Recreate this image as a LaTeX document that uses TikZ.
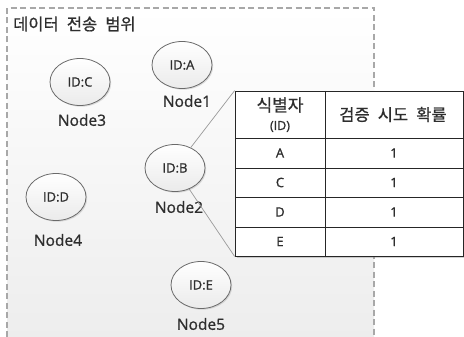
\documentclass[tikz,border=0pt]{standalone}
\usepackage{fontspec}
\setmainfont{Open Sans}[FakeBold=1.0]
\newfontfamily\kr{Noto Sans CJK KR}[WordSpace=2.2, FakeBold=0.8]
\usetikzlibrary{shadows,shapes.geometric}

\definecolor{bordergray}{HTML}{A8A8A8}
\definecolor{nodeedge}{HTML}{6A6A6A}
\definecolor{linkgray}{HTML}{9A9A9A}
\definecolor{inkgray}{HTML}{2E2E2E}

\tikzset{
  x=1pt, y=-1pt,
  idnode/.style={ellipse, draw=nodeedge, line width=0.8pt,
    top color=white, bottom color=black!8, minimum width=60pt,
    minimum height=47pt, inner sep=0pt, font=\fontsize{13}{14}\selectfont,
    text=inkgray,
    drop shadow={shadow xshift=1.2pt, shadow yshift=-1.2pt, opacity=0.25}},
  namelabel/.style={font=\fontsize{15.5}{17}\selectfont, text=inkgray, inner sep=0pt},
  cellbox/.style={draw=black!85, line width=0.8pt, fill=white, inner sep=0pt},
  celltext/.style={font=\fontsize{13}{14}\selectfont, text=inkgray, inner sep=0pt},
  krtext/.style={font=\kr\fontsize{16.5}{18}\selectfont, text=inkgray, inner sep=0pt},
  link/.style={draw=linkgray, line width=0.7pt},
}

\begin{document}
\begin{tikzpicture}
\useasboundingbox (0,0) rectangle (464,337);
\clip (0,0) rectangle (464,337);

% transmission range area
\shade[top color=white, bottom color=black!7] (7,8) rectangle (374,337);
\draw[bordergray, line width=1.4pt, dash pattern=on 6pt off 3.5pt]
  (7,337) -- (7,8) -- (374,8) -- (374,337);
\node[krtext, anchor=west] (title) at (13,24) {데이터 전송 범위};

% nodes
\node[idnode] (A) at (182,65) {ID:A};
\node[idnode] (C) at (80,82) {ID:C};
\node[idnode] (B) at (175,168) {ID:B};
\node[idnode] (D) at (56,197) {ID:D};
\node[idnode] (E) at (201,285) {ID:E};

\node[namelabel] (nA) at (187,101) {Node1};
\node[namelabel] (nC) at (82,120) {Node3};
\node[namelabel] (nB) at (179,207) {Node2};
\node[namelabel] (nD) at (58,240) {Node4};
\node[namelabel] (nE) at (201,324) {Node5};

% verification table of Node2
\node[cellbox, minimum width=228pt, minimum height=165pt,
  drop shadow={shadow xshift=2pt, shadow yshift=-2pt, opacity=0.35}]
  (tbl) at (349,173.5) {};
\draw[black!85, line width=0.8pt]
  (325,91) -- (325,256)
  (235,138) -- (463,138)
  (235,168) -- (463,168)
  (235,197) -- (463,197)
  (235,227) -- (463,227);

\node[krtext, font=\kr\fontsize{17}{19}\selectfont] (h1) at (280,105) {식별자};
\node[celltext, font=\fontsize{12.5}{14}\selectfont] (h1id) at (280,126.5) {(ID)};
\node[krtext, font=\kr\fontsize{16.5}{18}\selectfont] (h2) at (393,114.5) {검증 시도 확률};

\node[celltext] (r1a) at (280,153) {A};
\node[celltext] (r1b) at (394,153) {1};
\node[celltext] (r2a) at (280,182.5) {C};
\node[celltext] (r2b) at (394,182.5) {1};
\node[celltext] (r3a) at (280,212) {D};
\node[celltext] (r3b) at (394,212) {1};
\node[celltext] (r4a) at (280,241.5) {E};
\node[celltext] (r4b) at (394,241.5) {1};

% callout from Node2 to its table
\draw[link] (B) -- (tbl.north west);
\draw[link] (B) -- (tbl.south west);
\end{tikzpicture}
\end{document}
